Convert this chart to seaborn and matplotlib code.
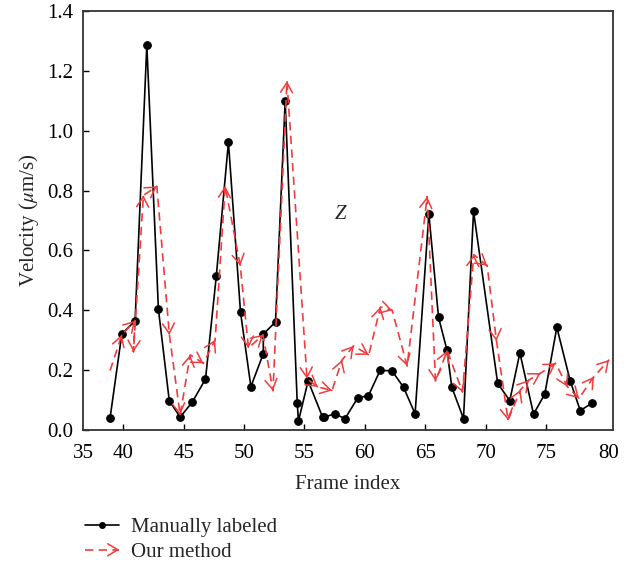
import numpy as np
import pandas as pd
import seaborn as sns
import matplotlib
matplotlib.use("Agg")
import matplotlib.pyplot as plt
from matplotlib.lines import Line2D
from matplotlib.patches import FancyArrowPatch
from matplotlib.legend_handler import HandlerBase

# Manually labeled velocities (frame index, µm/s)
manual_frame = [38.9, 39.87, 40.97, 41.94, 42.9, 43.8, 44.7, 45.7, 46.8, 47.7,
                48.7, 49.7, 50.56, 51.58, 51.6, 52.6, 53.4, 54.4, 54.5, 55.3,
                56.5, 56.64, 57.5, 58.36, 59.4, 60.3, 61.26, 62.24, 63.2, 64.16,
                65.3, 66.1, 66.8, 67.2, 68.17, 69.0, 71.0, 72.0, 72.84, 73.97,
                74.9, 75.9, 77.0, 77.84, 78.78]
manual_vel = [0.041, 0.321, 0.365, 1.286, 0.404, 0.098, 0.043, 0.093, 0.170, 0.516,
              0.962, 0.394, 0.145, 0.254, 0.321, 0.361, 1.099, 0.089, 0.030, 0.164,
              0.043, 0.043, 0.054, 0.038, 0.107, 0.115, 0.199, 0.198, 0.143, 0.054,
              0.722, 0.377, 0.267, 0.143, 0.038, 0.731, 0.156, 0.098, 0.258, 0.053,
              0.120, 0.343, 0.165, 0.065, 0.089]

# Velocities estimated by our method
method_frame = [38.90, 39.87, 40.97, 40.83, 41.66, 42.77, 43.81, 44.70, 45.53, 46.63,
                47.60, 48.43, 49.68, 50.36, 51.56, 52.39, 53.55, 55.21, 56.10, 57.28,
                58.11, 59.07, 60.32, 61.29, 62.26, 63.50, 65.16, 65.85, 66.82, 68.09,
                69.02, 70.13, 70.90, 71.86, 72.89, 73.58, 74.55, 75.80, 76.77, 77.73,
                78.97, 80.22]
method_vel = [0.199, 0.318, 0.365, 0.261, 0.784, 0.814, 0.318, 0.050, 0.251, 0.223,
              0.301, 0.815, 0.549, 0.274, 0.318, 0.131, 1.166, 0.171, 0.144, 0.132,
              0.234, 0.281, 0.251, 0.411, 0.400, 0.214, 0.780, 0.164, 0.265, 0.127,
              0.586, 0.549, 0.298, 0.033, 0.134, 0.167, 0.190, 0.223, 0.145, 0.106,
              0.178, 0.234]

x_tick_labels = ["35", "40", "45", "50", "55", "60", "65", "70", "75", "80"]
y_ticks = [0.0, 0.2, 0.4, 0.6, 0.8, 1.0, 1.2, 1.4]

manual_df = pd.DataFrame({"frame": manual_frame, "velocity": manual_vel})
method_df = pd.DataFrame({"frame": method_frame, "velocity": method_vel})

sns.set_theme(style="white")
plt.rcParams["font.family"] = ["Liberation Serif", "DejaVu Serif"]
plt.rcParams["mathtext.fontset"] = "stix"

RED = "#f03c3c"
FS = 15

fig = plt.figure(figsize=(6.33, 5.67), dpi=100)
ax = fig.add_axes([0.1316, 0.2416, 0.8364, 0.7390])

sns.lineplot(data=manual_df, x="frame", y="velocity", sort=False, ax=ax,
             color="black", lw=1.2, marker="o", markersize=5.5,
             markeredgecolor="black", estimator=None, zorder=3)
sns.lineplot(data=method_df, x="frame", y="velocity", sort=False, ax=ax,
             color=RED, lw=1.2, dashes=False, estimator=None, zorder=4)
ax.lines[-1].set_linestyle((0, (5, 3.2)))

# open arrowheads at the end of every step of the method's trace
head_style = "->, head_length=0.45, head_width=0.27"
for i in range(1, len(method_frame)):
    x0, y0 = method_frame[i - 1], method_vel[i - 1]
    x1, y1 = method_frame[i], method_vel[i]
    eps = 0.01
    ax.annotate("", xy=(x1, y1), xytext=(x1 - eps * (x1 - x0), y1 - eps * (y1 - y0)),
                arrowprops=dict(arrowstyle=head_style, color=RED, lw=1.1,
                                shrinkA=0, shrinkB=0, mutation_scale=16),
                zorder=5)

x_left, x_right = 36.68, 80.53
ax.set_xlim(x_left, x_right)
ax.set_ylim(0, 1.4)
tick_pos = [x_left, 40, 45, 50, 55, 60, 65, 70, 75, 80.2]
ax.set_xticks(tick_pos)
ax.set_xticklabels(x_tick_labels)
ax.set_yticks(y_ticks)
ax.set_yticklabels([f"{v:.1f}" for v in y_ticks])
ax.tick_params(axis="y", direction="in", length=4, width=1, labelsize=FS,
               colors="black", left=True, right=False, pad=7)
ax.tick_params(axis="x", direction="in", length=4, width=1, labelsize=FS,
               colors="black", bottom=True, top=False, pad=10)
for t in (ax.xaxis.get_major_ticks()[0], ax.xaxis.get_major_ticks()[-1]):
    t.tick1line.set_visible(False)
for s in ax.spines.values():
    s.set_color("#333333")
    s.set_linewidth(1.3)

ax.set_xlabel("Frame index", fontsize=FS, labelpad=9)
ax.set_ylabel(r"Velocity ($\mu$m/s)", fontsize=FS, labelpad=5)
ax.text(58.0, 0.72, "Z", fontsize=15, style="italic", ha="center", va="center")


class ArrowLineHandler(HandlerBase):
    def create_artists(self, legend, orig_handle, xdescent, ydescent,
                       width, height, fontsize, trans):
        y = height / 2 - ydescent
        x0, x1 = -xdescent, width - xdescent
        line = Line2D([x0, x1], [y, y], color=RED, lw=1.2, linestyle=(0, (5, 3.2)))
        head = FancyArrowPatch((x1 - 2, y), (x1, y), arrowstyle=head_style, color=RED,
                               lw=1.1, shrinkA=0, shrinkB=0, mutation_scale=16)
        line.set_transform(trans)
        head.set_transform(trans)
        return [line, head]


manual_handle = Line2D([], [], color="black", lw=1.2, marker="o", markersize=4)
method_handle = Line2D([], [], color=RED)
fig.legend([manual_handle, method_handle], ["Manually labeled", "Our method"],
           handler_map={method_handle: ArrowLineHandler()},
           loc="upper left", bbox_to_anchor=(0.134, 0.087), frameon=False,
           fontsize=FS, handlelength=1.65, handletextpad=0.55, labelspacing=0.25,
           borderaxespad=0, borderpad=0)

fig.savefig("out.png", dpi=100)
